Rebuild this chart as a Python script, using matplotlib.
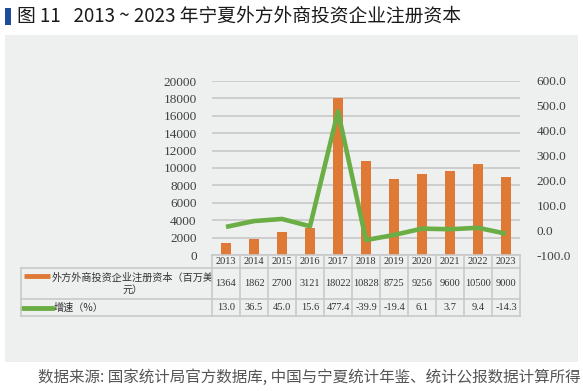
import matplotlib.pyplot as plt
from matplotlib.patches import Rectangle

# data
years = ['2013', '2014', '2015', '2016', '2017', '2018', '2019', '2020', '2021', '2022', '2023']
capital = [1364, 1862, 2700, 3121, 18022, 10828, 8725, 9256, 9600, 10500, 9000]
growth = [13.0, 36.5, 45.0, 15.6, 477.4, -39.9, -19.4, 6.1, 3.7, 9.4, -14.3]
capital_label = '外方外商投资企业注册资本（百万美\n元）'
growth_label = '增速（%）'
title = '图 11   2013 ~ 2023 年宁夏外方外商投资企业注册资本'
source = '数据来源: 国家统计局官方数据库, 中国与宁夏统计年鉴、统计公报数据计算所得'

W, H = 583, 391
cjk = ['Noto Sans CJK SC', 'DejaVu Sans']
serif = 'Liberation Serif'
orange = '#DE7A36'
green = '#6AAE45'
panel = '#EEF0EF'
gridc = '#CBCBCB'
textc = '#404040'

fig = plt.figure(figsize=(W / 100, H / 100), dpi=100)
fig.patch.set_facecolor('white')

# grey panel behind the chart
fig.patches.append(Rectangle((5 / W, 1 - 362 / H), 573 / W, 327 / H,
                             transform=fig.transFigure, facecolor=panel,
                             edgecolor='none', zorder=-5))

# title with blue block
fig.patches.append(Rectangle((5 / W, 1 - 25 / H), 6 / W, 17 / H,
                             transform=fig.transFigure, facecolor='#1F4E99',
                             edgecolor='none'))
fig.text(17 / W, 1 - 16.5 / H, title, family=cjk, fontsize=13.5,
         fontweight='medium', color='#1a1a1a', va='center', ha='left')

fig.text(38 / W, 1 - 377 / H, source, family=cjk, fontsize=11.2,
         color='#555555', va='center', ha='left')

# main axes
ax = fig.add_axes([212 / W, 1 - 255 / H, 308 / W, 174 / H])
ax.set_facecolor('none')
x = list(range(len(years)))
ax.bar(x, capital, width=0.37, color=orange, zorder=3)
ax.set_xlim(-0.5, len(years) - 0.5)
ax.set_ylim(0, 20000)
ax.set_yticks(range(0, 20001, 2000))
ax.set_yticklabels([str(v) for v in range(0, 20001, 2000)], family=serif,
                   fontsize=9.5, color=textc)
ax.set_xticks([])
ax.tick_params(axis='y', length=0, pad=11)
ax.grid(axis='y', color=gridc, lw=1.3, zorder=0)
for s in ax.spines.values():
    s.set_visible(False)

ax2 = ax.twinx()
ax2.plot(x, growth, color=green, lw=3.3, solid_capstyle='butt', zorder=4)
ax2.set_ylim(-100, 600)
ax2.set_yticks(range(-100, 601, 100))
ax2.set_yticklabels(['%.1f' % v for v in range(-100, 601, 100)], family=serif,
                    fontsize=9.5, color=textc)
ax2.tick_params(axis='y', length=0, pad=12)
for s in ax2.spines.values():
    s.set_visible(False)

# data table under the axes
tr = ax.get_xaxis_transform()
ph = 174.0
y0 = 0.0
y1 = -13 / ph
y2 = -44 / ph
y3 = -61 / ph
xl = -0.5 - 191 / 28.0
xr = len(years) - 0.5
lk = dict(transform=tr, clip_on=False, color='#C9C9C9', lw=1.2, zorder=5)

ax.plot([-0.5, xr], [y0, y0], **lk)
for yy in (y1, y2, y3):
    ax.plot([xl, xr], [yy, yy], **lk)
ax.plot([xl, xl], [y1, y3], **lk)
for i in range(len(years) + 1):
    ax.plot([i - 0.5, i - 0.5], [y0, y3], **lk)

for i, yr in enumerate(years):
    ax.text(i, (y0 + y1) / 2, yr, transform=tr, ha='center', va='center',
            family=serif, fontsize=7.5, color='#333333')
    ax.text(i, (y1 + y2) / 2, str(capital[i]), transform=tr, ha='center',
            va='center', family=serif, fontsize=7.5, color='#333333')
    ax.text(i, (y2 + y3) / 2, '%.1f' % growth[i], transform=tr, ha='center',
            va='center', family=serif, fontsize=7.5, color='#333333')

# row labels with legend keys
ax.plot([xl + 0.1, xl + 1.05], [-21 / ph, -21 / ph], transform=tr,
        clip_on=False, color=orange, lw=3.5, solid_capstyle='butt')
ax.text(xl + 4.0, (y1 + y2) / 2, capital_label, transform=tr, ha='center',
        va='center', family=cjk, fontsize=7.3, color='#333333',
        multialignment='center', linespacing=1.25)
ax.plot([xl + 0.05, xl + 1.15], [(y2 + y3) / 2] * 2, transform=tr,
        clip_on=False, color=green, lw=3.5, solid_capstyle='round')
ax.text(xl + 1.15, (y2 + y3) / 2, growth_label, transform=tr, ha='left',
        va='center', family=cjk, fontsize=7.3, color='#333333')

fig.savefig('out.png', dpi=100)
